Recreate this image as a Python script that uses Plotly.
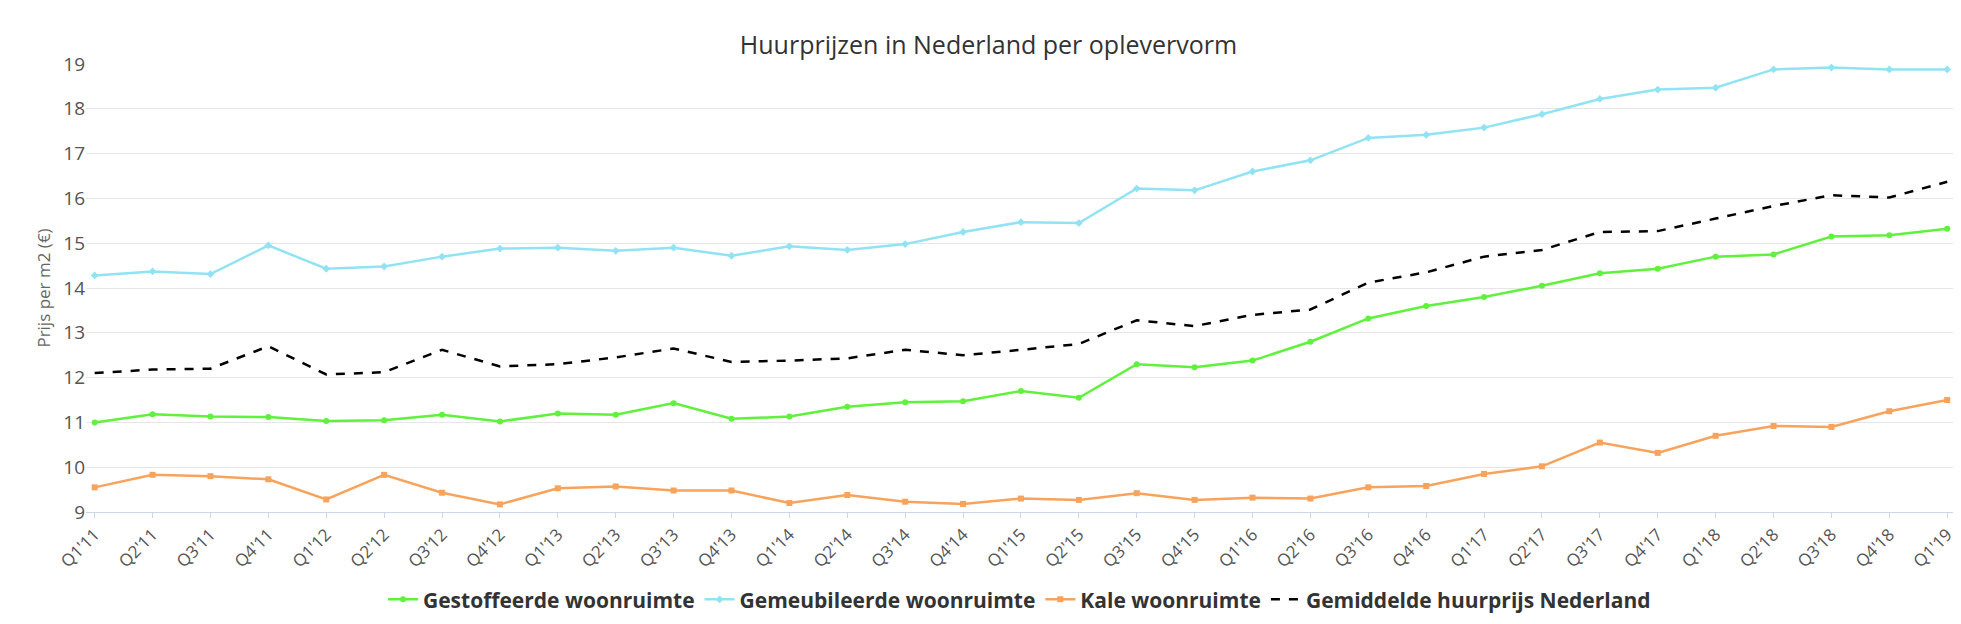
import plotly.graph_objects as go

kwartalen = [f"Q{q}'{j}" for j in range(11, 19) for q in range(1, 5)] + ["Q1'19"]

gestoffeerd = [11.00, 11.18, 11.13, 11.12, 11.03, 11.05, 11.17, 11.02, 11.20, 11.17, 11.43,
               11.08, 11.13, 11.35, 11.45, 11.47, 11.70, 11.55, 12.30, 12.23, 12.38, 12.80,
               13.32, 13.60, 13.80, 14.05, 14.33, 14.43, 14.70, 14.75, 15.15, 15.18, 15.32]
gemeubileerd = [14.28, 14.37, 14.31, 14.95, 14.43, 14.48, 14.70, 14.88, 14.90, 14.83, 14.90,
                14.72, 14.93, 14.85, 14.98, 15.25, 15.47, 15.45, 16.22, 16.18, 16.60, 16.85,
                17.35, 17.42, 17.58, 17.88, 18.22, 18.43, 18.47, 18.88, 18.92, 18.88, 18.88]
kaal = [9.55, 9.83, 9.80, 9.73, 9.28, 9.83, 9.43, 9.17, 9.53, 9.57, 9.48, 9.48, 9.20, 9.38,
        9.23, 9.18, 9.30, 9.27, 9.42, 9.27, 9.32, 9.30, 9.55, 9.58, 9.85, 10.02, 10.55, 10.32,
        10.70, 10.92, 10.90, 11.25, 11.50]
gemiddeld = [12.10, 12.18, 12.20, 12.70, 12.07, 12.12, 12.62, 12.25, 12.30, 12.45, 12.65,
             12.35, 12.38, 12.43, 12.62, 12.50, 12.62, 12.75, 13.28, 13.15, 13.40, 13.52,
             14.12, 14.35, 14.70, 14.85, 15.25, 15.27, 15.55, 15.83, 16.07, 16.02, 16.37]

fig = go.Figure()
fig.add_trace(go.Scatter(x=kwartalen, y=gestoffeerd, name="Gestoffeerde woonruimte",
                         mode="lines+markers", line=dict(color="#5ff13c", width=2.5),
                         marker=dict(symbol="circle", size=6)))
fig.add_trace(go.Scatter(x=kwartalen, y=gemeubileerd, name="Gemeubileerde woonruimte",
                         mode="lines+markers", line=dict(color="#91e3f4", width=2.5),
                         marker=dict(symbol="diamond", size=6)))
fig.add_trace(go.Scatter(x=kwartalen, y=kaal, name="Kale woonruimte",
                         mode="lines+markers", line=dict(color="#f7a35c", width=2.5),
                         marker=dict(symbol="square", size=6)))
fig.add_trace(go.Scatter(x=kwartalen, y=gemiddeld, name="Gemiddelde huurprijs Nederland",
                         mode="lines", line=dict(color="black", width=2.5, dash="dash")))

fig.update_layout(
    width=1961, height=624,
    paper_bgcolor="white", plot_bgcolor="white",
    font=dict(family="Open Sans, DejaVu Sans, sans-serif", color="#333"),
    title=dict(text="Huurprijzen in Nederland per oplevervorm", x=0.5, y=0.955,
               xanchor="center", font=dict(size=25, color="#333")),
    margin=dict(l=78, r=16, t=56, b=118),
    legend=dict(orientation="h", x=0.5, xanchor="center", y=-0.15, yanchor="top",
                font=dict(size=21, color="#333", weight="bold")),
    showlegend=True,
)
fig.update_xaxes(range=[-0.15, 32.1], tickangle=-45, tickfont=dict(size=17, color="#555"),
                 showgrid=False, showline=True, linecolor="#ccd6eb", ticks="outside",
                 tickcolor="#ccd6eb")
fig.update_yaxes(range=[9, 19], dtick=1, tickfont=dict(size=19, color="#555"),
                 gridcolor="#e6e6e6", zeroline=False,
                 title=dict(text="Prijs per m2 (€)", font=dict(size=17, color="#666"),
                            standoff=8))

fig.write_html("out.html")
